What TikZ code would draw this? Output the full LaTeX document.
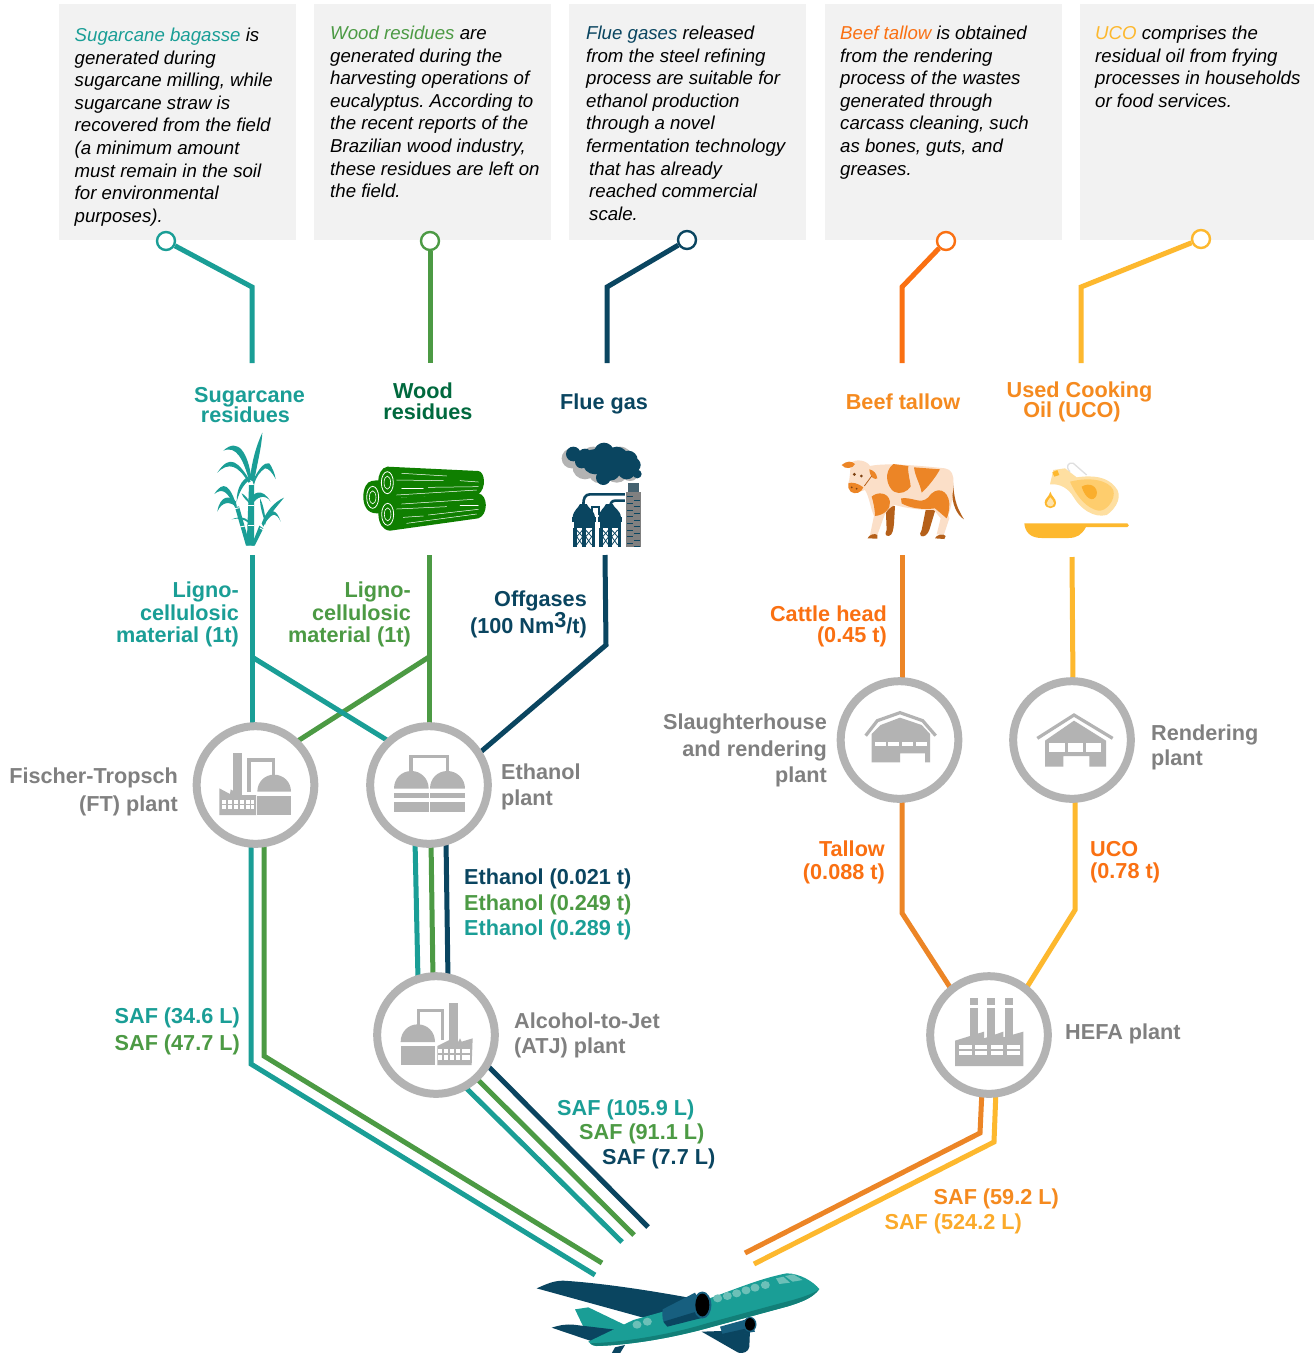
\documentclass[tikz,border=0pt]{standalone}
\usepackage{fontspec}
\setmainfont{Liberation Sans}
\definecolor{cteal}{HTML}{1A9E96}
\definecolor{cgreen}{HTML}{4C9A44}
\definecolor{cnavy}{HTML}{0A4560}
\definecolor{cdkgreen}{HTML}{00693E}
\definecolor{corange}{HTML}{FA7012}
\definecolor{corline}{HTML}{EC8526}
\definecolor{clabor}{HTML}{F58A1F}
\definecolor{cyel}{HTML}{FDB82E}
\definecolor{cring}{HTML}{B3B3B3}
\definecolor{cgtxt}{HTML}{808080}
\definecolor{cbox}{HTML}{F2F2F2}
\definecolor{clog}{HTML}{0F7F00}
\definecolor{cbeige}{HTML}{FBDFC8}
\definecolor{cbrown}{HTML}{B5601A}
\definecolor{cdkteal}{HTML}{127F78}
\definecolor{cltteal}{HTML}{6CC0B8}
\definecolor{ccowl}{HTML}{175F7F}
\pgfdeclarelayer{bg}
\pgfsetlayers{bg,main}
\newcommand\labfont[1]{\bfseries\fontsize{21.65}{#1}\selectfont}
\tikzset{
  conn/.style={line width=5pt,line join=miter},
  dotn/.style={circle,draw=#1,fill=white,line width=2.4pt,minimum size=18pt,inner sep=0pt},
  plant/.style={circle,draw=cring,fill=white,line width=8pt,minimum size=117.6pt,inner sep=0pt},
  desc/.style={anchor=north west,inner sep=0pt,align=left,font=\itshape\fontsize{18.65}{22.55}\selectfont\frenchspacing,text=black},
  lab/.style={inner sep=0pt,font=\labfont{22.5}},
  zc/.style 2 args={shift={(#1,#2)},x=.33333pt,y=-.33333pt},
}
\begin{document}
\begin{tikzpicture}[x=1pt,y=-1pt]
\useasboundingbox (0,0) rectangle (1314,1353);
\begin{pgfonlayer}{bg}
\fill[white] (0,0) rectangle (1314,1353);
\fill[cbox] (59,4) rectangle (296,240);
\fill[cbox] (314,4) rectangle (551,240);
\fill[cbox] (569,4) rectangle (806,240);
\fill[cbox] (825,4) rectangle (1062,240);
\fill[cbox] (1080,4) rectangle (1314,240);
\end{pgfonlayer}
\node[desc] (dS) at (74.5,28) {\textcolor{cteal}{Sugarcane bagasse} is\\generated during\\sugarcane milling, while\\sugarcane straw is\\recovered from the field\\(a minimum amount\\must remain in the soil\\for environmental\\purposes).};
\node[desc] (dW) at (330,26) {\textcolor{cgreen}{Wood residues} are\\generated during the\\harvesting operations of\\eucalyptus. According to\\the recent reports of the\\Brazilian wood industry,\\these residues are left on\\the field.};
\node[desc] (dF) at (586,26) {\textcolor{cnavy}{Flue gases} released\\from the steel refining\\process are suitable for\\ethanol production\\through a novel\\fermentation technology\\\hspace*{3pt}that has already\\\hspace*{3pt}reached commercial\\\hspace*{3pt}scale.};
\node[desc] (dB) at (840,26) {\textcolor{corange}{Beef tallow} is obtained\\from the rendering\\process of the wastes\\generated through\\carcass cleaning, such\\as bones, guts, and\\greases.};
\node[desc] (dU) at (1095,26) {\textcolor{cyel}{UCO} comprises the\\residual oil from frying\\processes in households\\or food services.};
\node[dotn=cteal] (dotS) at (166,241) {};
\node[dotn=cgreen] (dotW) at (430,241) {};
\node[dotn=cnavy] (dotF) at (687,240) {};
\node[dotn=corange] (dotB) at (946,241) {};
\node[dotn=cyel] (dotU) at (1201,239) {};
\node[plant] (ft) at (255.5,785) {};
\node[plant] (eth) at (429,785) {};
\node[plant] (sla) at (899.5,740) {};
\node[plant] (ren) at (1072,740) {};
\node[plant] (atj) at (436,1035) {};
\node[plant] (hefa) at (989,1035) {};
\coordinate (bS) at (252,287); \coordinate (eS) at (252,363);
\coordinate (eW) at (430,363);
\coordinate (bF) at (607,287); \coordinate (eF) at (607,363);
\coordinate (bB) at (902,287); \coordinate (eB) at (902,363);
\coordinate (bU) at (1081,287); \coordinate (eU) at (1081,363);
\coordinate (sS) at (252,555); \coordinate (jS) at (252,657); \coordinate (iS) at (252,730);
\coordinate (sW) at (429,555); \coordinate (jW) at (429,657); \coordinate (iW) at (429,730);
\coordinate (sF) at (605,555); \coordinate (mF) at (606,645);
\coordinate (sB) at (902,555); \coordinate (iB) at (902,685);
\coordinate (sU) at (1072,557); \coordinate (iU) at (1073,685);
\coordinate (ethT) at (429,766); \coordinate (ftT) at (255.5,768); \coordinate (ethF) at (429,796);
\begin{pgfonlayer}{bg}
\draw[conn,cteal] (dotS) -- (bS) -- (eS);
\draw[conn,cgreen] (dotW) -- (eW);
\draw[conn,cnavy] (dotF) -- (bF) -- (eF);
\draw[conn,corange] (dotB) -- (bB) -- (eB);
\draw[conn,cyel] (dotU) -- (bU) -- (eU);
\draw[conn,cgreen] (jW) -- (ftT);
\draw[conn,cteal] (jS) -- (ethT);
\draw[conn,cteal] (sS) -- (iS);
\draw[conn,cgreen] (sW) -- (iW);
\draw[conn,cnavy] (sF) -- (mF) -- (ethF);
\draw[conn,corline] (sB) -- (iB);
\draw[conn,cyel] (sU) -- (iU);
\draw[conn,cteal] (251,840) coordinate (a1) -- (251,1064) coordinate (a2) -- (595,1275) coordinate (a3);
\draw[conn,cgreen] (264,840) coordinate (b1) -- (264,1056) coordinate (b2) -- (602,1263) coordinate (b3);
\draw[conn,cteal] (415,840) coordinate (c1) -- (418,980) coordinate (c2);
\draw[conn,cgreen] (431,840) coordinate (d1) -- (433,980) coordinate (d2);
\draw[conn,cnavy] (446,840) coordinate (e1) -- (448,980) coordinate (e2);
\draw[conn,cnavy] (480,1058) coordinate (f1) -- (648,1227) coordinate (f2);
\draw[conn,cgreen] (468,1070) coordinate (g1) -- (634,1235) coordinate (g2);
\draw[conn,cteal] (458,1080) coordinate (h1) -- (622,1242) coordinate (h2);
\draw[conn,corline] (902,795) coordinate (k1) -- (902,913) coordinate (k2) -- (955,995) coordinate (k3);
\draw[conn,cyel] (1075,795) coordinate (l1) -- (1075,910) coordinate (l2) -- (1022,995) coordinate (l3);
\draw[conn,corline] (982,1090) coordinate (m1) -- (980,1133) coordinate (m2) -- (745,1253) coordinate (m3);
\draw[conn,cyel] (996,1090) coordinate (n1) -- (994,1142) coordinate (n2) -- (754,1264) coordinate (n3);
\end{pgfonlayer}
\node[lab,text=cteal,align=center,anchor=north] (tS) at (249.5,387) {Sugarcane\\[-2.3pt]residues\hspace*{8pt}};
\node[lab,text=cdkgreen,align=center,anchor=north] (tW) at (428,383) {Wood\hspace*{10pt}\\[-2.3pt]residues};
\node[lab,text=cnavy,anchor=north] (tF) at (604,394) {Flue gas};
\node[lab,text=clabor,anchor=north] (tB) at (903,394) {Beef tallow};
\node[lab,text=clabor,align=center,anchor=north] (tU) at (1079.5,382) {Used Cooking\\[-2.5pt]Oil (UCO)\hspace*{15pt}};
\node[lab,text=cteal,align=right,anchor=north east] (l1) at (239,582) {Ligno-\\cellulosic\\material (1t)};
\node[lab,text=cgreen,align=right,anchor=north east] (l2) at (411,582) {Ligno-\\cellulosic\\material (1t)};
\node[lab,text=cnavy,align=right,anchor=north east] (l3) at (587,591) {Offgases\\[0pt](100 Nm\raisebox{6pt}{3}/t)};
\node[lab,text=corange,align=right,anchor=north east] (l4) at (887,606) {Cattle head\\[-1.5pt](0.45 t)};
\node[lab,text=cgtxt,align=right,anchor=north east,font=\labfont{26.5}] (n1) at (827,714) {Slaughterhouse\\and rendering\\plant};
\node[lab,text=cgtxt,align=left,anchor=north west,font=\labfont{25}] (n2) at (1151,725) {Rendering\\plant};
\node[lab,text=cgtxt,align=right,anchor=north east,font=\labfont{28}] (n3) at (178,768) {Fischer-Tropsch\\(FT) plant};
\node[lab,text=cgtxt,align=left,anchor=north west,font=\labfont{26}] (n4) at (501,764) {Ethanol\\plant};
\node[lab,text=corange,align=right,anchor=north east] (l5) at (885,841) {Tallow\\(0.088 t)};
\node[lab,text=corange,align=left,anchor=north west] (l6) at (1090,841) {UCO\\(0.78 t)};
\node[lab,text=cnavy,anchor=north west] (e1) at (464,869) {Ethanol (0.021 t)};
\node[lab,text=cgreen,anchor=north west] (e2) at (464,895) {Ethanol (0.249 t)};
\node[lab,text=cteal,anchor=north west] (e3) at (464,920) {Ethanol (0.289 t)};
\node[lab,text=cteal,anchor=north east] (s1) at (240,1008) {SAF (34.6 L)};
\node[lab,text=cgreen,anchor=north east] (s2) at (240,1035) {SAF (47.7 L)};
\node[lab,text=cgtxt,align=left,anchor=north west,font=\labfont{25}] (n5) at (514,1013) {Alcohol-to-Jet\\(ATJ) plant};
\node[lab,text=cgtxt,anchor=north west] (n6) at (1065,1024) {HEFA plant};
\node[lab,text=cteal,anchor=north west] (s3) at (557,1100) {SAF (105.9 L)};
\node[lab,text=cgreen,anchor=north west] (s4) at (579,1124) {SAF (91.1 L)};
\node[lab,text=cnavy,anchor=north west] (s5) at (602,1149) {SAF (7.7 L)};
\node[lab,text=clabor,anchor=north east] (s6) at (1059,1189) {SAF (59.2 L)};
\node[lab,text=cyel!70!clabor,anchor=north east] (s7) at (1022,1214) {SAF (524.2 L)};
% FT and ethanol icons
\begin{scope}[zc={180}{670},cring]
\fill (160,265) rectangle (186,375); \fill (158,250) rectangle (186,263);
\draw[line width=3.4pt] (207,365) -- (207,270) -- (280,270) -- (280,318);
\fill (232,365) .. controls (232,335) and (255,314) .. (282,314) .. controls (310,314) and (333,335) .. (333,365) -- cycle;
\fill (232,378) rectangle (333,435);
\fill (118,435) -- (118,355) -- (150,372) -- (152,358) -- (180,375) -- (228,375) -- (228,435) -- cycle;
\foreach \xx in {127,145,163,181,199,212} \foreach \yy in {390,405} \fill[white] (\xx,\yy) rectangle +(11,12);
\draw[line width=3.4pt] (693,305) -- (693,260) -- (802,260) -- (802,305);
\fill (642,356) .. controls (642,325) and (665,303) .. (694,303) .. controls (722,303) and (746,325) .. (746,356) -- cycle;
\fill (750,356) .. controls (750,325) and (773,303) .. (802,303) .. controls (830,303) and (855,325) .. (855,356) -- cycle;
\fill (642,370) rectangle (747,384); \fill (750,370) rectangle (855,384);
\fill (642,397) rectangle (747,425); \fill (750,397) rectangle (855,425);
\end{scope}
% slaughter and rendering icons
\begin{scope}[zc={820}{670},cring]
\draw[line width=3.2pt] (137,197) -- (172,152) -- (240,128) -- (308,152) -- (347,197);
\fill (155,277) -- (155,192) -- (182,165) -- (240,143) -- (305,165) -- (330,192) -- (330,277) -- (315,277) -- (315,250) -- (240,250) -- (240,277) -- cycle;
\foreach \xx in {165,205,246,288} \fill[white] (\xx,216) rectangle +(33,12);
\draw[line width=3.2pt] (652,205) -- (762,135) -- (878,205);
\fill (675,290) -- (675,212) -- (762,152) -- (858,212) -- (858,290) -- (808,290) -- (808,258) -- (730,258) -- (730,290) -- cycle;
\fill[white] (688,220) rectangle (735,245); \fill[white] (745,220) rectangle (790,245); \fill[white] (798,220) rectangle (842,245);
\end{scope}
% ATJ icon
\begin{scope}[zc={360}{960},cring]
\draw[line width=3pt] (175,195) -- (175,150) -- (248,150) -- (248,240);
\fill (122,246) .. controls (122,215) and (145,193) .. (173,193) .. controls (202,193) and (225,215) .. (225,246) -- cycle;
\fill (123,258) rectangle (225,315);
\fill (268,145) rectangle (295,245); \fill (268,130) rectangle (295,145);
\fill (232,315) -- (232,258) -- (268,240) -- (295,245) -- (300,235) -- (305,245) -- (338,235) -- (335,315) -- cycle;
\foreach \xx in {235,253,270,288,305,318} \foreach \yy in {266,286} \fill[white] (\xx,\yy) rectangle +(12,13);
\end{scope}
% HEFA icon
\begin{scope}[zc={910}{960},cring]
\foreach \xx in {180,232,285} {\fill (\xx,113) rectangle +(24,22); \fill (\xx,145) rectangle +(24,85);}
\fill (135,318) -- (135,242) -- (222,215) -- (222,235) -- (280,215) -- (280,232) -- (340,215) -- (340,318) -- cycle;
\foreach \xx in {148,195,243,292} \foreach \yy in {255,272} \fill[white] (\xx,\yy) rectangle +(37,13);
\end{scope}
% sugarcane
\begin{scope}[zc={180}{430},cteal]
\fill (200,347) -- (207,165) -- (222,165) -- (222,347) -- cycle;
\fill (165,232) -- (177,229) -- (210,345) -- (198,347) -- cycle;
\fill (238,287) -- (250,295) -- (224,347) -- (214,347) -- cycle;
\fill (210,150) .. controls (215,90) and (232,40) .. (247,8) .. controls (245,50) and (232,100) .. (222,155) -- cycle;
\fill (215,150) .. controls (205,70) and (175,20) .. (130,62) .. controls (170,45) and (190,90) .. (207,150) -- cycle;
\fill (212,155) .. controls (175,95) and (150,70) .. (112,128) .. controls (145,95) and (175,105) .. (205,158) -- cycle;
\fill (218,155) .. controls (235,115) and (255,95) .. (268,100) .. controls (275,110) and (285,130) .. (287,147) .. controls (275,125) and (265,115) .. (255,115) .. controls (240,125) and (228,140) .. (222,165) -- cycle;
\fill (170,228) .. controls (150,165) and (130,150) .. (103,192) .. controls (130,170) and (145,190) .. (165,232) -- cycle;
\fill (168,215) .. controls (150,195) and (120,195) .. (112,245) .. controls (125,215) and (150,212) .. (170,232) -- cycle;
\fill (205,140) .. controls (185,150) and (170,175) .. (170,215) .. controls (178,185) and (190,165) .. (207,150) -- cycle;
\fill (212,205) .. controls (220,190) and (245,170) .. (272,215) .. controls (255,190) and (230,200) .. (215,225) -- cycle;
\fill (185,190) .. controls (195,195) and (205,205) .. (212,225) .. controls (200,210) and (190,205) .. (185,190) -- cycle;
\fill (240,205) .. controls (250,225) and (255,250) .. (258,285) .. controls (250,260) and (240,235) .. (240,205) -- cycle;
\fill (245,280) .. controls (260,240) and (285,215) .. (312,203) .. controls (295,225) and (270,250) .. (250,290) -- cycle;
\fill (255,265) .. controls (270,235) and (290,235) .. (302,275) .. controls (290,250) and (280,245) .. (258,275) -- cycle;
\fill (155,268) .. controls (180,258) and (195,262) .. (205,272) -- (205,278) .. controls (195,270) and (180,262) .. (155,268) -- cycle;
\foreach \ya/\yb/\yc/\yd in {205/225/222/225,203/285/222/285,165/236/178/233,180/291/195/288,240/294/252/300}
  \draw[white,line width=.9pt] (\ya,\yb) -- (\yc,\yd);
% logs
\fill[clog] (575,153) .. controls (590,150) and (610,150) .. (620,155) -- (650,250) -- (590,250) .. controls (560,250) and (550,225) .. (550,200) .. controls (550,175) and (560,155) .. (575,153) -- cycle;
\fill[clog] (622,110) -- (895,123) .. controls (915,125) and (920,175) .. (895,193) -- (622,205) .. controls (585,200) and (585,115) .. (622,110) -- cycle;
\fill[clog] (622,205) -- (895,190) .. controls (925,195) and (925,255) .. (895,265) -- (630,302) .. controls (585,300) and (585,210) .. (622,205) -- cycle;
\foreach \cx/\cy in {622/158,623/253,578/202} {
  \draw[white,line width=.8pt] (\cx,\cy) ellipse [x radius=6pt,y radius=11pt];
  \draw[white,line width=.6pt] (\cx,\cy) ellipse [x radius=3.3pt,y radius=6.5pt];
}
\foreach \xa/\ya/\xb/\yb in {665/130/800/138,650/150/790/152,840/152/895/156,665/175/730/175,745/172/895/170,650/195/890/180,665/222/880/208,650/237/800/230,840/225/895/225,670/262/730/258,745/255/895/238,680/280/890/252}
  \draw[white,line width=.5pt,line cap=round] (\xa,\ya) -- (\xb,\yb);
% flue gas
\foreach \cx/\cy/\r in {1175/85/30,1215/110/38,1260/125/35,1310/120/38,1350/125/28,1240/90/40,1320/90/40}
  \fill[cring] (\cx,\cy) circle [radius=\r/3*1pt];
\foreach \cx/\cy/\r in {1180/72/22,1215/78/22,1245/95/38,1272/68/30,1310/85/35,1345/90/28,1290/120/32,1270/143/22,1340/120/28,1372/132/13,1360/105/22,1205/95/20}
  \fill[cnavy] (\cx,\cy) circle [radius=\r/3*1pt];
\fill[cnavy!50!gray] (1343,158) rectangle (1378,185);
\fill[gray] (1337,185) rectangle (1384,350);
\foreach \yy in {200,220,...,340} {\draw[cnavy,line width=.4pt] (1342,\yy) -- (1358,\yy); \draw[cnavy,line width=.4pt] (1362,\yy+10) -- (1380,\yy+10);}
\draw[cnavy,line width=2.6pt] (1335,193) -- (1230,193) .. controls (1215,193) and (1210,205) .. (1210,225);
\draw[cnavy,line width=2.6pt] (1335,212) -- (1305,212) .. controls (1295,212) and (1290,220) .. (1290,235);
\draw[cnavy,line width=2pt] (1235,255) -- (1235,232) -- (1258,232) -- (1258,255);
\foreach \dx in {0,78} {\begin{scope}[xshift=\dx*.33333pt]
\fill[cnavy] (1178,262) .. controls (1180,240) and (1195,235) .. (1200,222) -- (1220,222) .. controls (1225,235) and (1243,240) .. (1245,262) -- cycle;
\fill[cnavy] (1176,262) rectangle (1248,275);
\fill[cnavy] (1182,275) rectangle (1244,295);
\foreach \xx in {1180,1207,1235} \fill[cnavy] (\xx,295) rectangle +(10,55);
\foreach \xa in {1190,1217} {\draw[cnavy,line width=.8pt] (\xa,300) -- (\xa+18,320) -- (\xa,345); \draw[cnavy,line width=.8pt] (\xa+18,300) -- (\xa,320) -- (\xa+18,345);}
\end{scope}}
\end{scope}
% cow and oil
\begin{scope}[zc={820}{440}]
\fill[cbrown] (197,198) -- (225,198) -- (222,250) .. controls (220,270) and (218,285) .. (206,288) .. controls (195,288) and (195,280) .. (200,270) -- cycle;
\fill[cbrown] (318,205) -- (346,210) -- (328,270) .. controls (322,285) and (312,292) .. (303,288) .. controls (298,285) and (300,278) .. (305,270) -- cycle;
\fill[cbrown] (398,115) .. controls (402,170) and (405,195) .. (432,238) .. controls (410,225) and (395,190) .. (396,150) -- cycle;
\fill[cbeige] (150,78) .. controls (190,70) and (250,72) .. (375,85) .. controls (395,88) and (402,105) .. (400,130) .. controls (398,170) and (395,200) .. (385,225) -- (388,235) -- (372,283) -- (350,283) -- (362,235) -- (342,210) .. controls (300,210) and (260,205) .. (225,195) .. controls (210,200) and (195,215) .. (190,235) -- (172,285) -- (150,285) -- (162,228) .. controls (150,200) and (148,170) .. (135,150) .. controls (110,160) and (85,150) .. (85,130) .. controls (90,115) and (90,100) .. (92,70) .. controls (105,55) and (140,60) .. (150,78) -- cycle;
\fill[corline] (65,75) .. controls (80,62) and (95,62) .. (105,72) .. controls (100,85) and (75,90) .. (65,75) -- cycle;
\fill[corline] (85,130) .. controls (95,125) and (115,130) .. (130,142) .. controls (125,158) and (105,165) .. (92,155) .. controls (85,148) and (83,140) .. (85,130) -- cycle;
\fill[corline] (148,88) .. controls (160,90) and (170,100) .. (172,115) .. controls (165,120) and (150,115) .. (148,88) -- cycle;
\fill[corline] (220,72) -- (265,78) .. controls (262,100) and (272,125) .. (272,140) .. controls (262,155) and (240,165) .. (222,155) .. controls (200,140) and (190,95) .. (220,72) -- cycle;
\fill[corline] (282,82) -- (360,88) .. controls (345,115) and (320,145) .. (305,158) .. controls (300,130) and (285,110) .. (282,82) -- cycle;
\fill[corline] (155,170) .. controls (170,155) and (205,155) .. (210,185) .. controls (212,205) and (195,225) .. (165,228) .. controls (165,210) and (160,185) .. (155,170) -- cycle;
\fill[corline] (243,175) .. controls (280,170) and (300,195) .. (325,172) .. controls (350,135) and (385,150) .. (388,190) .. controls (388,210) and (385,225) .. (380,235) -- (345,205) .. controls (310,210) and (270,205) .. (245,190) -- cycle;
\fill[cbrown] (143,295) .. controls (145,285) and (165,278) .. (172,285) -- (172,296) -- cycle;
\fill[cbrown] (345,295) .. controls (348,285) and (370,278) .. (377,288) -- (373,297) -- cycle;
\fill[cbrown!70!black] (103,103) circle [radius=1.6pt]; \fill[cbrown!70!black] (124,108) circle [radius=1.5pt];
\fill[cbrown!70!black] (95,142) circle [radius=1pt]; \fill[cbrown!70!black] (110,146) circle [radius=1pt];
\draw[cbrown,line width=.8pt] (155,108) -- (133,138);
\fill[cyel] (613,250) -- (922,250) .. controls (928,254) and (928,259) .. (922,261) -- (798,261) .. controls (785,285) and (770,294) .. (745,294) -- (665,294) .. controls (630,294) and (615,275) .. (613,250) -- cycle;
\fill[cyel] (691,155) .. controls (695,170) and (708,175) .. (708,188) .. controls (708,210) and (675,210) .. (674,188) .. controls (674,175) and (688,170) .. (691,155) -- cycle;
\fill[cyel!40!white] (691,172) .. controls (696,180) and (702,182) .. (702,190) .. controls (700,202) and (682,202) .. (680,190) .. controls (680,182) and (688,180) .. (691,172) -- cycle;
\draw[gray!25,line width=1.3pt] (750,95) .. controls (735,80) and (745,65) .. (760,70) -- (800,105);
\fill[cyel!45!white] (690,133) -- (700,90) -- (735,85) -- (770,112) .. controls (820,105) and (860,110) .. (885,140) .. controls (910,165) and (890,205) .. (860,225) .. controls (820,235) and (780,205) .. (760,170) .. controls (745,145) and (720,130) .. (690,133) -- cycle;
\fill[cyel!70!white] (750,125) .. controls (810,110) and (865,120) .. (880,150) .. controls (888,178) and (860,215) .. (835,212) .. controls (800,205) and (770,170) .. (750,125) -- cycle;
\fill[cyel!80!corline] (785,140) .. controls (810,125) and (835,140) .. (830,165) .. controls (820,190) and (795,175) .. (785,140) -- cycle;
\fill[cyel] (697,97) -- (712,90) -- (718,105) -- (703,110) -- cycle;
\end{scope}
% plane
\begin{scope}[zc={520}{1210}]
\fill[cnavy] (50,235) .. controls (80,222) and (100,212) .. (130,212) .. controls (230,218) and (400,240) .. (620,285) -- (560,320) -- (450,345) -- cycle;
\fill[cnavy] (545,365) -- (690,360) -- (688,410) .. controls (686,425) and (670,432) .. (655,428) -- cycle;
\fill[cnavy] (275,430) -- (285,412) -- (315,405) -- (300,430) -- cycle;
\fill[cteal] (165,298) -- (205,292) -- (315,345) -- (310,372) -- (190,350) -- cycle;
\fill[cnavy] (95,353) .. controls (120,345) and (140,342) .. (160,344) -- (312,362) -- (228,398) -- cycle;
\fill[cteal] (205,395) -- (340,330) -- (560,268) .. controls (640,240) and (720,205) .. (800,190) .. controls (840,190) and (880,215) .. (898,237) .. controls (880,262) and (850,275) .. (800,290) -- (560,355) .. controls (450,385) and (330,405) .. (230,408) .. controls (218,407) and (210,402) .. (205,395) -- cycle;
\fill[cdkteal] (210,400) .. controls (340,395) and (480,365) .. (560,340) -- (780,280) .. controls (840,265) and (880,252) .. (898,237) .. controls (880,262) and (850,275) .. (800,290) -- (560,355) .. controls (450,385) and (330,405) .. (230,408) .. controls (220,407) and (213,404) .. (210,400) -- cycle;
\foreach \wx/\wy in {351/344,382/335,593/265,622/258,650/250,678/241,705/233,736/225}
  \fill[cltteal] (\wx,\wy) ellipse [x radius=4.5pt,y radius=4pt];
\fill[cltteal] (768,205) -- (790,200) -- (810,218) -- (778,222) -- cycle;
\fill[cltteal] (795,198) -- (820,193) -- (848,210) -- (818,215) -- cycle;
\fill[ccowl] (600,350) -- (690,325) -- (705,365) -- (610,380) -- cycle;
\fill[cnavy] (605,372) -- (695,352) -- (690,368) -- (612,382) -- cycle;
\fill[ccowl] (690,343) ellipse [x radius=6.5pt,y radius=7.5pt];
\fill[black] (690,343) ellipse [x radius=5pt,y radius=6.3pt];
\fill[ccowl] (428,298) -- (525,248) -- (560,320) -- (440,345) .. controls (428,340) and (425,320) .. (428,298) -- cycle;
\fill[cnavy] (430,335) -- (545,300) -- (560,320) -- (442,350) -- cycle;
\fill[ccowl] (547,285) ellipse [x radius=9pt,y radius=13.5pt];
\fill[black] (547,285) ellipse [x radius=7pt,y radius=11.5pt];
\end{scope}
\end{tikzpicture}
\end{document}
